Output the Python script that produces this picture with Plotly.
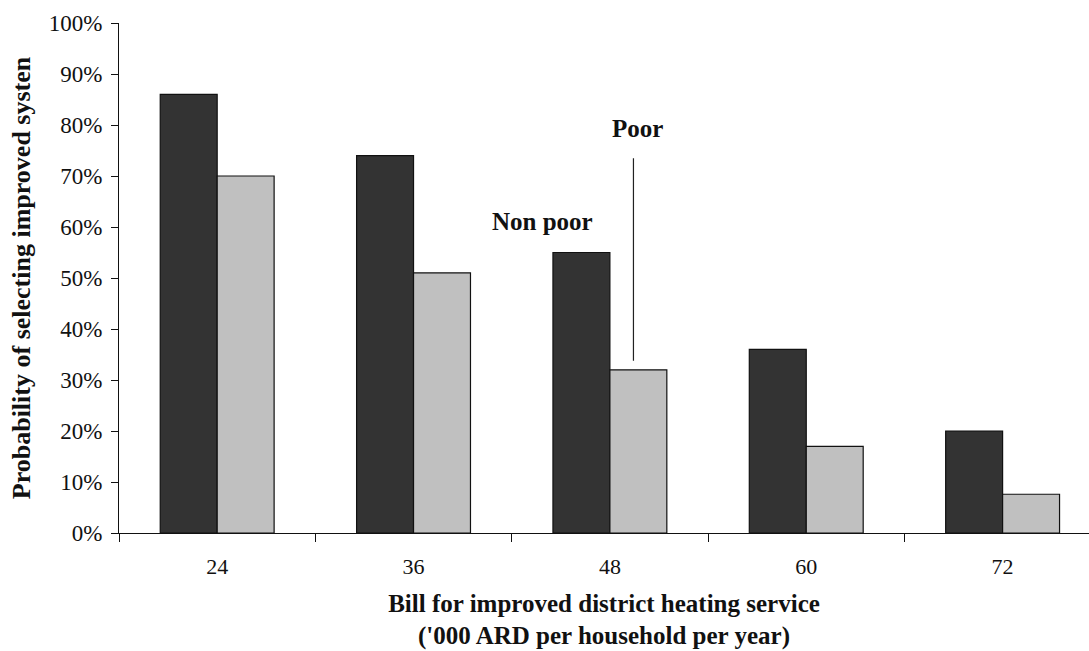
import plotly.graph_objects as go

bills = ["24", "36", "48", "60", "72"]
non_poor = [86, 74, 55, 36, 20]
poor = [70, 51, 32, 17, 7.6]
y_ticks = [0, 10, 20, 30, 40, 50, 60, 70, 80, 90, 100]

serif = "Liberation Serif, Times New Roman, serif"
x_pos = list(range(len(bills)))

fig = go.Figure()
fig.add_trace(go.Bar(x=x_pos, y=non_poor, name="Non poor",
                     marker=dict(color="#333333", line=dict(color="#111111", width=1.2))))
fig.add_trace(go.Bar(x=x_pos, y=poor, name="Poor",
                     marker=dict(color="#c0c0c0", line=dict(color="#111111", width=1.2))))

fig.update_layout(
    width=1089, height=651,
    margin=dict(l=119, r=0, t=23, b=118),
    paper_bgcolor="white", plot_bgcolor="white",
    barmode="group", bargap=0.42, bargroupgap=0,
    showlegend=False,
    font=dict(family=serif, color="#111111"),
    xaxis=dict(
        range=[-0.5, 4.44], tickmode="array", tickvals=x_pos, ticktext=bills,
        ticks="", showline=True, linecolor="#111111", linewidth=1.2,
        showgrid=False, zeroline=False, tickfont=dict(size=22),
        ticklabelstandoff=13,
        minor=dict(tickmode="linear", tick0=-0.5, dtick=1, ticks="outside",
                   ticklen=8, tickcolor="#111111", tickwidth=1.2, showgrid=False),
        title=dict(text="<b>Bill for improved district heating service<br>('000 ARD per household per year)</b>",
                   font=dict(size=25), standoff=16),
    ),
    yaxis=dict(
        range=[0, 100], tickmode="array", tickvals=y_ticks,
        ticktext=[f"{v}%" for v in y_ticks], ticks="outside", ticklen=7,
        tickcolor="#111111", tickwidth=1.2, showline=True, linecolor="#111111",
        linewidth=1.2, showgrid=False, zeroline=False, tickfont=dict(size=23),
        ticklabelstandoff=4,
        title=dict(text="<b>Probability of selecting improved systen</b>",
                   font=dict(size=26), standoff=10),
    ),
)

# group labels with a leader line to the poor-household bar
fig.add_annotation(x=2, y=non_poor[2], xref="x", yref="y", text="<b>Non poor</b>",
                   showarrow=False, xshift=-67, yshift=31, font=dict(size=25, family=serif))
fig.add_annotation(x=2.12, y=poor[2], xref="x", yref="y", text="<b>Poor</b>",
                   showarrow=False, xshift=4, yshift=241, font=dict(size=25, family=serif))
fig.add_annotation(x=2.12, y=poor[2], xref="x", yref="y", text="",
                   ax=0, ay=-213, axref="pixel", ayref="pixel",
                   showarrow=True, arrowhead=0, arrowwidth=1.2, arrowcolor="#222222",
                   standoff=9)

fig.write_html("out.html")
